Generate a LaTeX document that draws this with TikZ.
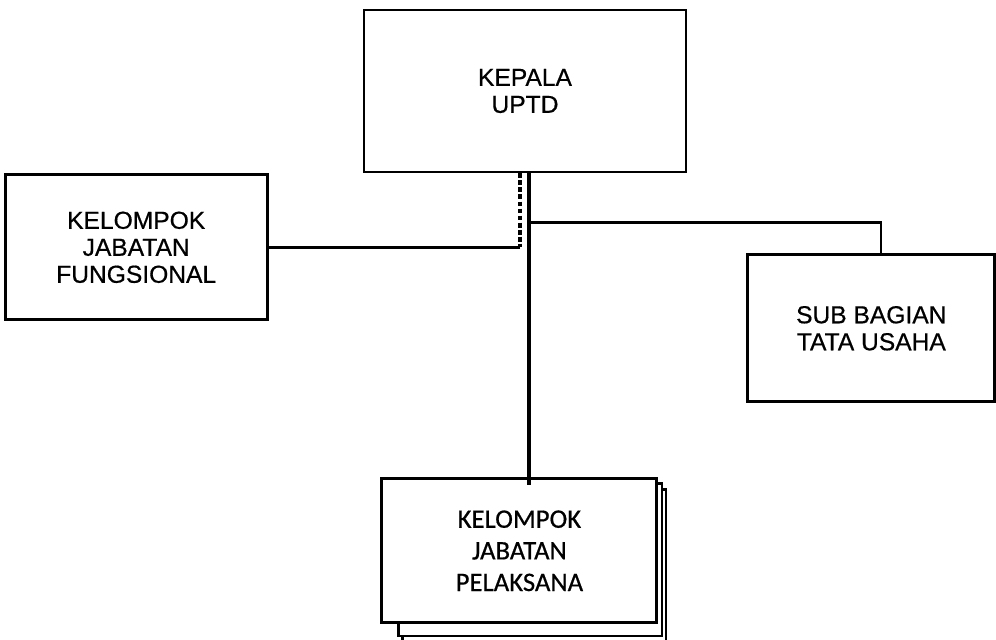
\documentclass[tikz,border=0pt]{standalone}
\usepackage{fontspec}
\setmainfont[FakeBold=0.6]{Liberation Sans}
\newfontfamily\calib[FakeBold=0.6]{Carlito}
\usetikzlibrary{positioning,backgrounds}

\begin{document}
\begin{tikzpicture}[
    unitbox/.style={draw, line width=2pt, fill=white, align=center, inner sep=0pt,
        font=\fontsize{17.5}{19.2}\selectfont},
    link/.style={line width=2pt}
]
    \useasboundingbox (0,0) rectangle (24.9,-16);

    \node[unitbox, minimum width=8.05cm, minimum height=4.05cm] (kepala) at (13.125,-2.275) {KEPALA\\UPTD};
    \node[unitbox, minimum width=6.55cm, minimum height=3.625cm,
        left=2.35cm of kepala.south west, anchor=north east] (fungsional) {KELOMPOK\\JABATAN\\FUNGSIONAL};
    \node[unitbox, minimum width=6.175cm, minimum height=3.675cm,
        below right=2cm and 1.475cm of kepala] (tatausaha) {SUB BAGIAN\\TATA USAHA};
    \node[unitbox, minimum width=6.875cm, minimum height=3.6cm,
        font=\calib\fontsize{19}{22.5}\selectfont,
        below=7.6cm of kepala, xshift=-0.14cm] (pelaksana) {KELOMPOK\\JABATAN\\PELAKSANA};

    % stacked copies behind pelaksana
    \begin{scope}[on background layer]
        \draw[link, line width=1.6pt] ([xshift=0.55cm,yshift=-0.475cm]pelaksana.south west)
            rectangle ([xshift=0.2cm,yshift=-0.3cm]pelaksana.north east);
        \draw[link, line width=1.6pt, fill=white] ([xshift=0.45cm,yshift=-0.3cm]pelaksana.south west)
            rectangle ([xshift=0.1cm,yshift=-0.15cm]pelaksana.north east);
    \end{scope}

    \coordinate (trunk) at ([xshift=0.1cm]kepala.south);
    \coordinate (branch) at ([yshift=-1.225cm]trunk);
    \coordinate (dash) at ([xshift=-0.125cm]kepala.south);
    \coordinate (bend) at (dash |- fungsional.east);

    \draw[link, line width=2.4pt] (trunk) -- ([yshift=-0.2cm]trunk |- pelaksana.north);
    \draw[link] (branch) -| ([xshift=0.24cm]tatausaha.north);
    \draw[link, line width=2.2pt, dash pattern=on 3.5pt off 1.5pt] (dash) -- (bend);
    \draw[link] (bend) -- (fungsional.east);
\end{tikzpicture}
\end{document}
